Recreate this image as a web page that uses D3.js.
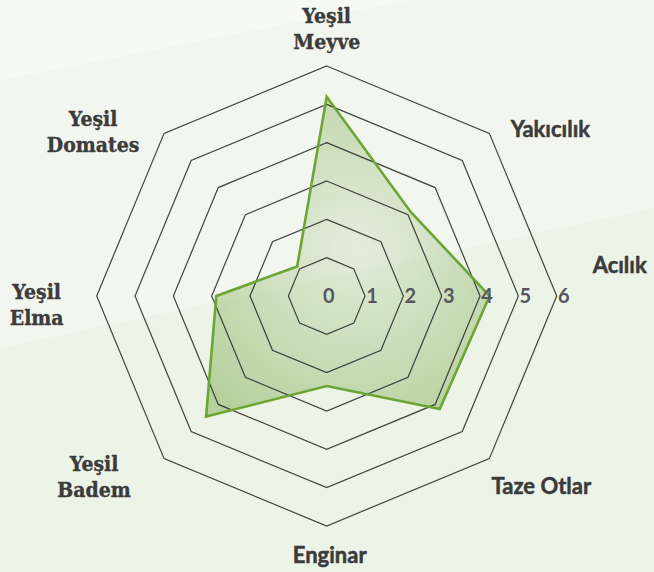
<!DOCTYPE html>
<html>
<head>
<meta charset="utf-8">
<script src="https://cdn.jsdelivr.net/npm/d3@7/dist/d3.min.js"></script>
<style>
  body { margin: 0; }
  svg { display: block; }
</style>
</head>
<body>
<div id="chart"></div>
<script>
// axes, clockwise from the top
const categories = ["Yeşil Meyve", "Yakıcılık", "Acılık", "Taze Otlar", "Enginar", "Yeşil Badem", "Yeşil Elma", "Yeşil Domates"];
// two-line labels (the slab ones) vs single-line labels
const labelLines = [["Yeşil", "Meyve"], ["Yakıcılık"], ["Acılık"], ["Taze Otlar"], ["Enginar"], ["Yeşil", "Badem"], ["Yeşil", "Elma"], ["Yeşil", "Domates"]];
const values = [5.2, 3.1, 4.25, 4.17, 2.35, 4.45, 2.88, 1.09];
const ticks = [0, 1, 2, 3, 4, 5, 6];

const width = 654, height = 572;
const cx = 326.7, cy = 296, outer = 230;

// label nudges relative to the outer ring vertex (layout only)
const labelOffset = [[0, -38], [61, -4], [63, -31], [52, 27], [3, 29], [-70, 18], [-60, 8], [-71, -2]];

const svg = d3.select("#chart").append("svg")
    .attr("width", width)
    .attr("height", height);

let defs = svg.append("defs");

// soft light spot up and right of the centre (coords are in the translated group)
let grad = defs.append("radialGradient")
    .attr("id", "fillGrad")
    .attr("gradientUnits", "userSpaceOnUse")
    .attr("cx", 30).attr("cy", -46).attr("r", 200);
grad.append("stop").attr("offset", "0%").attr("stop-color", "#d6e4cb");
grad.append("stop").attr("offset", "100%").attr("stop-color", "#7fad54");

// background with two diagonal bands
svg.append("rect").attr("width", width).attr("height", height).attr("fill", "#ecf4e7");
svg.append("path")
    .attr("d", `M0,0 L${width},0 L${width},208 L0,348 Z`)
    .attr("fill", "#f3f6ef");
svg.append("path")
    .attr("d", "M0,0 L410,0 L0,80 Z")
    .attr("fill", "#f7f9f6");

let rScale = d3.scaleLinear()
    .domain([0, 6])
    .range([0, outer]);

let angle = d3.scaleLinear()
    .domain([0, categories.length])
    .range([0, 2 * Math.PI]);

let g = svg.append("g")
    .attr("transform", "translate(" + cx + "," + cy + ")");

let area = d3.lineRadial()
    .angle((d, i) => angle(i))
    .radius(d => rScale(d))
    .curve(d3.curveLinearClosed);

// data fill first, grid on top of it, then the outline
g.append("path")
    .datum(values)
    .attr("d", area)
    .attr("fill", "url(#fillGrad)")
    .attr("fill-opacity", 0.5);

let ring = d3.lineRadial()
    .angle((d, i) => angle(i))
    .radius(d => d)
    .curve(d3.curveLinearClosed);

g.append("g")
    .selectAll("path")
    .data(ticks.filter(t => t > 0))
    .enter()
    .append("path")
    .attr("d", t => ring(categories.map(() => rScale(t))))
    .attr("fill", "none")
    .attr("stroke", "#333")
    .attr("stroke-opacity", 0.92)
    .attr("stroke-width", 1.2);

g.append("path")
    .datum(values)
    .attr("d", area)
    .attr("fill", "none")
    .attr("stroke", "#6da534")
    .attr("stroke-width", 2.6);

// tick labels along the right axis
g.append("g")
    .selectAll("text")
    .data(ticks)
    .enter()
    .append("text")
    .attr("x", d => d === 0 ? 2 : rScale(d) + 7)
    .attr("y", 0)
    .attr("dy", "0.35em")
    .attr("text-anchor", "middle")
    .attr("font-family", "Lato, sans-serif")
    .attr("font-weight", 700)
    .attr("font-size", 20)
    .attr("fill", "#56585e")
    .text(d => d);

// axis labels
categories.forEach((c, i) => {
    let a = angle(i);
    let vx = Math.sin(a) * outer + labelOffset[i][0];
    let vy = -Math.cos(a) * outer + labelOffset[i][1];
    let lines = labelLines[i];
    let twoLine = lines.length > 1;
    let lh = 26;
    let t = g.append("text")
        .attr("text-anchor", "middle")
        .attr("font-family", twoLine ? "'DejaVu Serif Condensed', 'DejaVu Serif', serif" : "Lato, sans-serif")
        .attr("font-weight", 700)
        .attr("font-size", twoLine ? 21 : 22)
        .attr("fill", "#3b3b3b")
        .attr("stroke", "#3b3b3b")
        .attr("stroke-width", twoLine ? 0.35 : 0.5);
    lines.forEach((l, k) => {
        t.append("tspan")
            .attr("x", vx)
            .attr("y", vy + (k - (lines.length - 1) / 2) * lh)
            .attr("dy", "0.36em")
            .text(l);
    });
});
</script>
</body>
</html>
